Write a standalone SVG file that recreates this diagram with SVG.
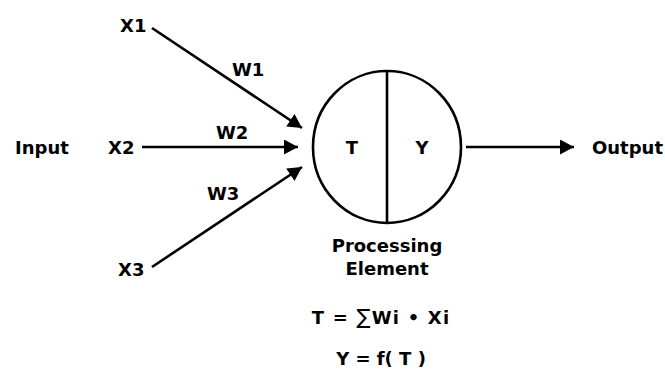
<svg xmlns="http://www.w3.org/2000/svg" width="665" height="391" viewBox="0 0 665 391">
<style>
text{font-family:"DejaVu Sans","Liberation Sans",sans-serif;font-weight:bold;font-size:18px;fill:#000}
.c{text-anchor:middle}
.ln{stroke:#000;stroke-width:2.6;fill:none}
</style>
<defs>
<marker id="ah" markerUnits="userSpaceOnUse" markerWidth="15" markerHeight="15" refX="14" refY="7.5" orient="auto">
<path d="M0,0 L14,7.5 L0,15 z" fill="#000"/>
</marker>
</defs>
<rect width="665" height="391" fill="#fff"/>
<g id="connectors">
<line class="ln" x1="152" y1="28" x2="302" y2="128" marker-end="url(#ah)"/>
<line class="ln" x1="142" y1="147" x2="298" y2="147" marker-end="url(#ah)"/>
<line class="ln" x1="152" y1="267" x2="302" y2="167" marker-end="url(#ah)"/>
<line class="ln" x1="466" y1="147" x2="574" y2="147" marker-end="url(#ah)"/>
</g>
<g id="input"><text x="15" y="154">Input</text></g>
<g id="x1"><text x="120" y="32">X1</text></g>
<g id="x2"><text x="108" y="154">X2</text></g>
<g id="x3"><text x="118" y="276">X3</text></g>
<g id="w1"><text x="232" y="76">W1</text></g>
<g id="w2"><text x="216" y="139">W2</text></g>
<g id="w3"><text x="207" y="200">W3</text></g>
<g id="processing-element">
<ellipse class="ln" cx="387" cy="147" rx="74" ry="76"/>
<line class="ln" x1="387" y1="71" x2="387" y2="223"/>
<text class="c" x="352" y="154">T</text>
<text class="c" x="422" y="154">Y</text>
<text class="c" x="387" y="252">Processing</text>
<text class="c" x="387" y="275">Element</text>
</g>
<g id="output"><text x="592" y="154">Output</text></g>
<g id="formulas">
<text class="c" x="381" y="324" letter-spacing="1.2">T = <tspan font-size="21" font-weight="normal">∑</tspan>Wi • Xi</text>
<text class="c" x="381" y="365">Y = f( T )</text>
</g>
</svg>
